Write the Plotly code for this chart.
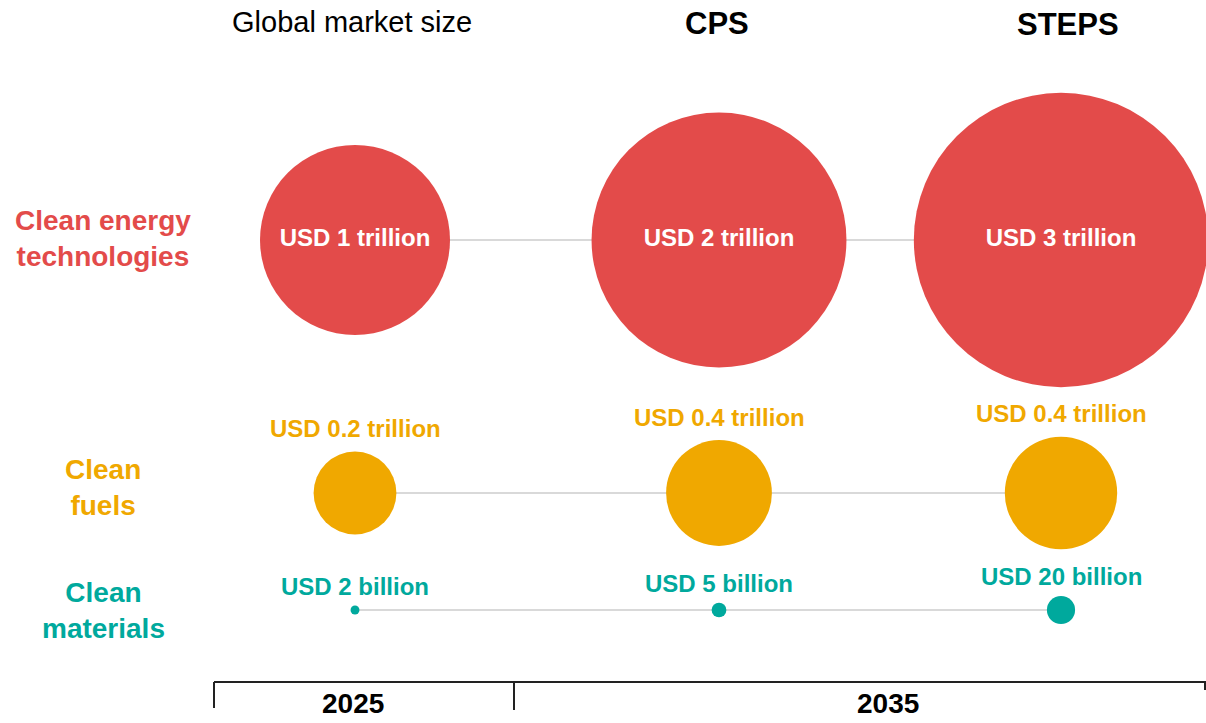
import plotly.graph_objects as go

# ---------------- data ----------------
columns = ["2025", "CPS", "STEPS"]
header_texts = ["Global market size", "CPS", "STEPS"]
rows = ["Clean energy<br>technologies", "Clean<br>fuels", "Clean<br>materials"]
# market size, USD trillion
energy_values = [1.0, 1.8, 2.4]
fuels_values = [0.19, 0.31, 0.35]
materials_values = [0.0022, 0.006, 0.022]
energy_labels = ["USD 1 trillion", "USD 2 trillion", "USD 3 trillion"]
fuels_labels = ["USD 0.2 trillion", "USD 0.4 trillion", "USD 0.4 trillion"]
materials_labels = ["USD 2 billion", "USD 5 billion", "USD 20 billion"]
year_labels = ["2025", "2035"]

# ---------------- layout / style ----------------
W, H = 1206, 723
COL_X = [355, 719, 1061]
ROW_Y = [240, 493, 610]
ROW_LABEL_X = 103
ROW_LABEL_Y = [238, 487, 610]
HEADER_X = [352, 717, 1068]
HEADER_Y = [22, 23, 24]
RED = "#E34B4A"
ORANGE = "#F0A800"
TEAL = "#00A99D"
GREY_LINE = "#D9D9D9"
FONT = "Arial, Liberation Sans, sans-serif"
R_PER_SQRT = 95.0  # px radius for 1 trillion
SIZEREF = 1.0 / (2 * R_PER_SQRT ** 2)
LABEL_GAP = [0, 23, 19]

series = [
    (energy_values, energy_labels, RED),
    (fuels_values, fuels_labels, ORANGE),
    (materials_values, materials_labels, TEAL),
]

fig = go.Figure()

# connecting lines
for i, (vals, labs, col) in enumerate(series):
    fig.add_trace(go.Scatter(
        x=COL_X, y=[ROW_Y[i]] * len(vals), mode="lines",
        line=dict(color=GREY_LINE, width=2), hoverinfo="skip", showlegend=False))

# bubbles
for i, (vals, labs, col) in enumerate(series):
    fig.add_trace(go.Scatter(
        x=COL_X, y=[ROW_Y[i]] * len(vals),
        mode="markers+text" if i == 0 else "markers",
        text=labs if i == 0 else None,
        textposition="middle center",
        textfont=dict(family=FONT, size=24, color="white", weight="bold"),
        marker=dict(size=vals, sizemode="area", sizeref=SIZEREF, color=col,
                    opacity=1, line=dict(width=0)),
        showlegend=False, hoverinfo="skip"))

annotations = []
# labels above fuels / materials bubbles
for i, (vals, labs, col) in enumerate(series):
    if i == 0:
        continue
    for x, v, lab in zip(COL_X, vals, labs):
        r = (v / (2 * SIZEREF)) ** 0.5
        annotations.append(dict(
            x=x, y=ROW_Y[i], text=lab, showarrow=False, xanchor="center",
            yanchor="middle", yshift=r + LABEL_GAP[i],
            font=dict(family=FONT, size=24, color=col, weight="bold")))

# row labels
for i, (vals, labs, col) in enumerate(series):
    annotations.append(dict(
        x=ROW_LABEL_X, y=ROW_LABEL_Y[i], text=rows[i], showarrow=False,
        xanchor="center", yanchor="middle", align="center",
        font=dict(family=FONT, size=28, color=col, weight="bold")))

# headers
for j, t in enumerate(header_texts):
    annotations.append(dict(
        x=HEADER_X[j], y=HEADER_Y[j], text=t, showarrow=False,
        xanchor="center", yanchor="middle",
        font=dict(family=FONT, size=29 if j == 0 else 31, color="black",
                  weight="normal" if j == 0 else "bold")))

# year axis labels (kept fully inside the canvas)
YEAR_X = [353, 888]
for x, t in zip(YEAR_X, year_labels):
    annotations.append(dict(
        x=x, y=H, text=t, showarrow=False, xanchor="center", yanchor="bottom",
        yshift=2, font=dict(family=FONT, size=28, color="black", weight="bold")))

AX = "#222222"
shapes = [
    dict(type="line", x0=214, x1=1206, y0=682, y1=682, line=dict(color=AX, width=2)),
    dict(type="line", x0=214, x1=214, y0=682, y1=708, line=dict(color=AX, width=2)),
    dict(type="line", x0=514, x1=514, y0=682, y1=710, line=dict(color=AX, width=2)),
    dict(type="line", x0=1205, x1=1205, y0=682, y1=690, line=dict(color=AX, width=2)),
]

fig.update_layout(
    width=W, height=H, margin=dict(l=0, r=0, t=0, b=0),
    paper_bgcolor="white", plot_bgcolor="white",
    xaxis=dict(range=[0, W], visible=False, fixedrange=True),
    yaxis=dict(range=[H, 0], visible=False, fixedrange=True),
    annotations=annotations, shapes=shapes,
)

fig.write_html(
    "out.html",
    config={"displayModeBar": False},
    post_script="document.body.style.margin='0';document.body.style.overflow='hidden';",
)
